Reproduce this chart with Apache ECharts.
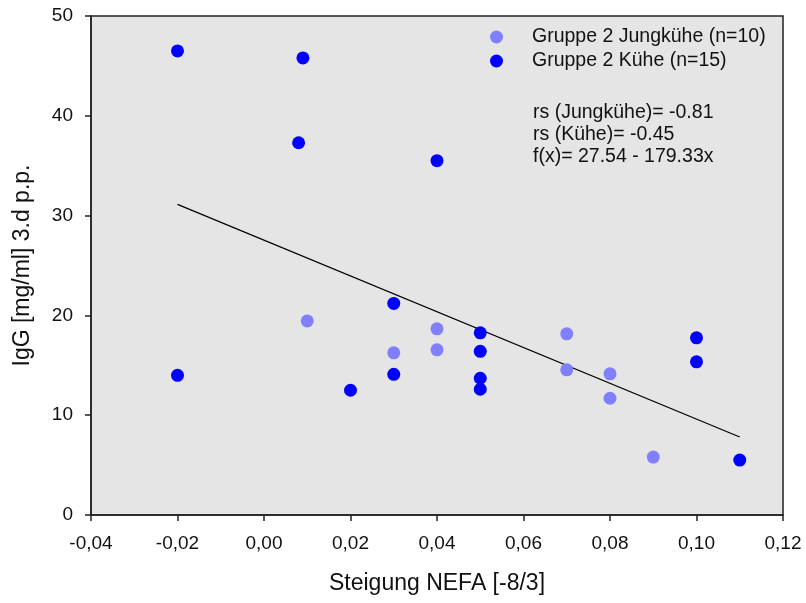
<!DOCTYPE html>
<html>
<head>
<meta charset="utf-8">
<script src="https://cdn.jsdelivr.net/npm/echarts@6/dist/echarts.min.js"></script>
<style>
  html, body { margin: 0; padding: 0; background: #fff; }
  #chart { width: 806px; height: 603px; }
</style>
</head>
<body>
<div id="chart"></div>
<script>
// Gruppe 2 Jungkühe: [Steigung NEFA, IgG]
var jungX = [0.01, 0.03, 0.04, 0.04, 0.07, 0.07, 0.08, 0.08, 0.09];
var jungY = [19.45, 16.25, 18.65, 16.55, 18.15, 14.55, 14.15, 11.7, 5.8];

// Gruppe 2 Kühe
var kueheX = [-0.02, 0.009, 0.008, 0.04, 0.03, -0.02, 0.02, 0.03, 0.05, 0.05, 0.05, 0.05, 0.10, 0.10, 0.11];
var kueheY = [46.5, 45.8, 37.3, 35.5, 21.2, 14.0, 12.5, 14.1, 18.25, 16.4, 13.7, 12.6, 17.75, 15.35, 5.5];

// Regressionsgerade f(x) = a + b*x
var fitA = 27.54;
var fitB = -179.33;
var fitX = [-0.02, 0.11];

var notes = ['rs (Jungkühe)= -0.81', 'rs (Kühe)= -0.45', 'f(x)= 27.54 - 179.33x'];

function pairs(xs, ys) {
    return xs.map(function (x, i) { return [x, ys[i]]; });
}

var chart = echarts.init(document.getElementById('chart'));
var font = 'Liberation Sans, Arial, sans-serif';

var option = {
    animation: false,
    textStyle: { fontFamily: font },
    grid: {
        left: 91, right: 23, top: 16, bottom: 88,
        show: true,
        backgroundColor: '#e5e5e5',
        borderColor: '#222',
        borderWidth: 1.5
    },
    legend: {
        left: 485,
        top: 22,
        orient: 'vertical',
        itemWidth: 13,
        itemHeight: 13,
        itemGap: 4,
        data: [
            { name: 'Gruppe 2 Jungkühe (n=10)', icon: 'circle' },
            { name: 'Gruppe 2 Kühe (n=15)', icon: 'circle' }
        ],
        textStyle: { fontSize: 19.5, lineHeight: 20, color: '#111', padding: [0, 0, 0, 24], fontFamily: font }
    },
    xAxis: {
        type: 'value',
        min: -0.04,
        max: 0.12,
        interval: 0.02,
        name: 'Steigung NEFA [-8/3]',
        nameLocation: 'middle',
        nameGap: 57,
        nameTextStyle: { fontSize: 23, color: '#111' },
        axisLine: { onZero: false, lineStyle: { color: '#222', width: 1.5 } },
        axisTick: { inside: false, length: 6, lineStyle: { color: '#222', width: 1.5 } },
        axisLabel: {
            fontSize: 19,
            color: '#111',
            margin: 19,
            formatter: function (v) { return v.toFixed(2).replace('.', ','); }
        },
        splitLine: { show: false }
    },
    yAxis: {
        type: 'value',
        min: 0,
        max: 50,
        interval: 10,
        name: 'IgG [mg/ml] 3.d p.p.',
        nameLocation: 'middle',
        nameGap: 57,
        nameTextStyle: { fontSize: 23, color: '#111' },
        axisLine: { show: true, onZero: false, lineStyle: { color: '#222', width: 1.5 } },
        axisTick: { show: true, inside: false, length: 6, lineStyle: { color: '#222', width: 1.5 } },
        axisLabel: { fontSize: 19, color: '#111', margin: 18, padding: [4, 0, 0, 0] },
        splitLine: { show: false }
    },
    graphic: [{
        type: 'text',
        left: 533,
        top: 102,
        style: {
            text: notes.join('\n'),
            fontSize: 19.5,
            lineHeight: 22,
            fill: '#111',
            fontFamily: font
        }
    }],
    series: [
        {
            name: 'Regression',
            type: 'line',
            data: fitX.map(function (x) { return [x, fitA + fitB * x]; }),
            showSymbol: false,
            lineStyle: { color: '#000', width: 1.2 },
            silent: true,
            z: 1
        },
        {
            name: 'Gruppe 2 Jungkühe (n=10)',
            type: 'scatter',
            data: pairs(jungX, jungY),
            symbol: 'circle',
            symbolSize: 13,
            itemStyle: { color: '#8080ff', opacity: 1 },
            z: 2
        },
        {
            name: 'Gruppe 2 Kühe (n=15)',
            type: 'scatter',
            data: pairs(kueheX, kueheY),
            symbol: 'circle',
            symbolSize: 13,
            itemStyle: { color: '#0000ff', opacity: 1 },
            z: 3
        }
    ]
};

chart.setOption(option);
window.addEventListener('resize', function () {
    chart.resize();
});
</script>
</body>
</html>
